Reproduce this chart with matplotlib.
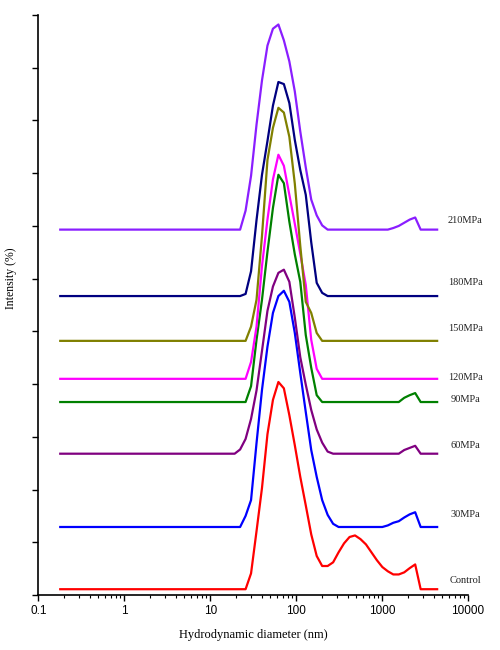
import numpy as np
import matplotlib
matplotlib.use("Agg")
import matplotlib.pyplot as plt

# Diamètres (nm) et intensités
diam = [0.18, 16.63, 19.26, 22.30, 25.82, 29.89, 34.61, 40.07, 46.40, 53.73,
        62.2, 72.02, 83.41, 96.56, 111.8, 129.5, 149.9, 173.6, 201.0, 232.7,
        269.5, 312.0, 361.3, 418.4, 484.4, 560.9, 649.5, 752.0, 870.8, 1008,
        1167, 1351, 1565, 1812, 2098, 2429, 2813, 3257, 4375]

control = [0, 0, 0, 0, 0, 3.0, 11.0, 19.2, 29.4, 35.9,
           39.3, 38.1, 33.0, 27.3, 21.3, 15.9, 10.4, 6.3, 4.4, 4.4,
           5.1, 7.0, 8.7, 9.9, 10.2, 9.5, 8.5, 7.0, 5.5, 4.2,
           3.4, 2.8, 2.8, 3.2, 4.0, 4.7, 0, 0, 0]
p30 = [0, 0, 0, 0, 2.1, 5.1, 15.9, 26.0, 34.2, 40.6,
       43.8, 44.8, 42.7, 36.8, 29.2, 21.8, 14.6, 9.5, 5.1, 2.3,
       0.6, 0, 0, 0, 0, 0, 0, 0, 0, 0,
       0.3, 0.8, 1.1, 1.8, 2.4, 2.8, 0, 0, 0]
p60 = [0, 0, 0, 0.8, 2.8, 6.6, 12.0, 19.5, 27.1, 31.7,
       34.3, 34.9, 32.6, 25.8, 18.3, 13.1, 8.3, 4.6, 2.1, 0.4,
       0, 0, 0, 0, 0, 0, 0, 0, 0, 0,
       0, 0, 0, 0.7, 1.1, 1.5, 0, 0, 0]
p90 = [0, 0, 0, 0, 0, 3.0, 11.8, 19.4, 28.5, 36.8,
       43.1, 41.5, 34.2, 28.0, 22.8, 12.7, 6.5, 1.3, 0, 0,
       0, 0, 0, 0, 0, 0, 0, 0, 0, 0,
       0, 0, 0, 0.8, 1.3, 1.7, 0, 0, 0]
p120 = [0, 0, 0, 0, 0, 3.2, 9.9, 21.4, 30.2, 37.8,
        42.5, 40.4, 34.9, 29.4, 23.7, 17.8, 7.4, 1.9, 0, 0,
        0, 0, 0, 0, 0, 0, 0, 0, 0, 0,
        0, 0, 0, 0, 0, 0, 0, 0, 0]
p150 = [0, 0, 0, 0, 0, 2.7, 7.8, 19.9, 34.3, 40.4,
        44.2, 43.3, 38.7, 29.8, 18.0, 7.4, 5.3, 1.5, 0, 0,
        0, 0, 0, 0, 0, 0, 0, 0, 0, 0,
        0, 0, 0, 0, 0, 0, 0, 0, 0]
p180 = [0, 0, 0, 0, 0.4, 4.7, 14.4, 23.0, 29.4, 36.1,
        40.6, 40.2, 36.6, 29.6, 23.9, 19.2, 10.2, 2.5, 0.6, 0,
        0, 0, 0, 0, 0, 0, 0, 0, 0, 0,
        0, 0, 0, 0, 0, 0, 0, 0, 0]
p210 = [0, 0, 0, 0, 3.6, 10.2, 19.9, 28.3, 34.9, 38.1,
        38.9, 35.9, 31.9, 26.2, 18.6, 11.8, 5.7, 2.7, 0.8, 0,
        0, 0, 0, 0, 0, 0, 0, 0, 0, 0,
        0, 0.3, 0.7, 1.3, 1.9, 2.3, 0, 0, 0]

names = ["Control", "30MPa", "60MPa", "90MPa", "120MPa", "150MPa", "180MPa", "210MPa"]
series = [control, p30, p60, p90, p120, p150, p180, p210]
offsets = [1.1, 12.9, 26.8, 36.6, 41.0, 48.2, 56.7, 69.3]
label_y = [2.8, 15.2, 28.3, 37.0, 41.2, 50.5, 59.2, 71.0]
colors = ["#FF0000", "#0000FF", "#800080", "#008000", "#FF00FF",
          "#808000", "#000080", "#8A1EFF"]

fig = plt.figure(figsize=(5, 6.5), dpi=100)
ax = fig.add_axes([0.0766, 0.0846, 0.8594, 0.8923])

for name, vals, off, ly, c in zip(names, series, offsets, label_y, colors):
    ax.plot(diam, np.array(vals) + off, color=c, lw=1.6)
    ax.text(9300, ly, name, ha="center", va="center", fontsize=7.5,
            family="Liberation Serif", color="#222222")

ax.set_xscale("log")
ax.set_xlim(0.1, 10000)
ax.set_ylim(0, 110)
ax.set_xticks([0.1, 1, 10, 100, 1000, 10000])
ax.set_xticklabels(["0.1", "1", "10", "100", "1000", "10000"],
                   family="Liberation Sans", fontsize=8.5)
ax.set_yticks(np.arange(0, 111, 10))
ax.set_yticklabels([])
ax.tick_params(axis="both", which="major", direction="out", length=4, width=1)
ax.tick_params(axis="x", which="minor", direction="out", length=2.5, width=0.8)
ax.spines["top"].set_visible(False)
ax.spines["right"].set_visible(False)
ax.spines["left"].set_linewidth(1.2)
ax.spines["bottom"].set_linewidth(1.2)

ax.set_xlabel("Hydrodynamic diameter (nm)", family="Liberation Serif",
              fontsize=9, labelpad=8)
fig.text(0.022, 1 - 278 / 650, "Intensity (%)", rotation=90, ha="center",
         va="center", family="Liberation Serif", fontsize=8.5)

fig.savefig("out.png", dpi=100)
